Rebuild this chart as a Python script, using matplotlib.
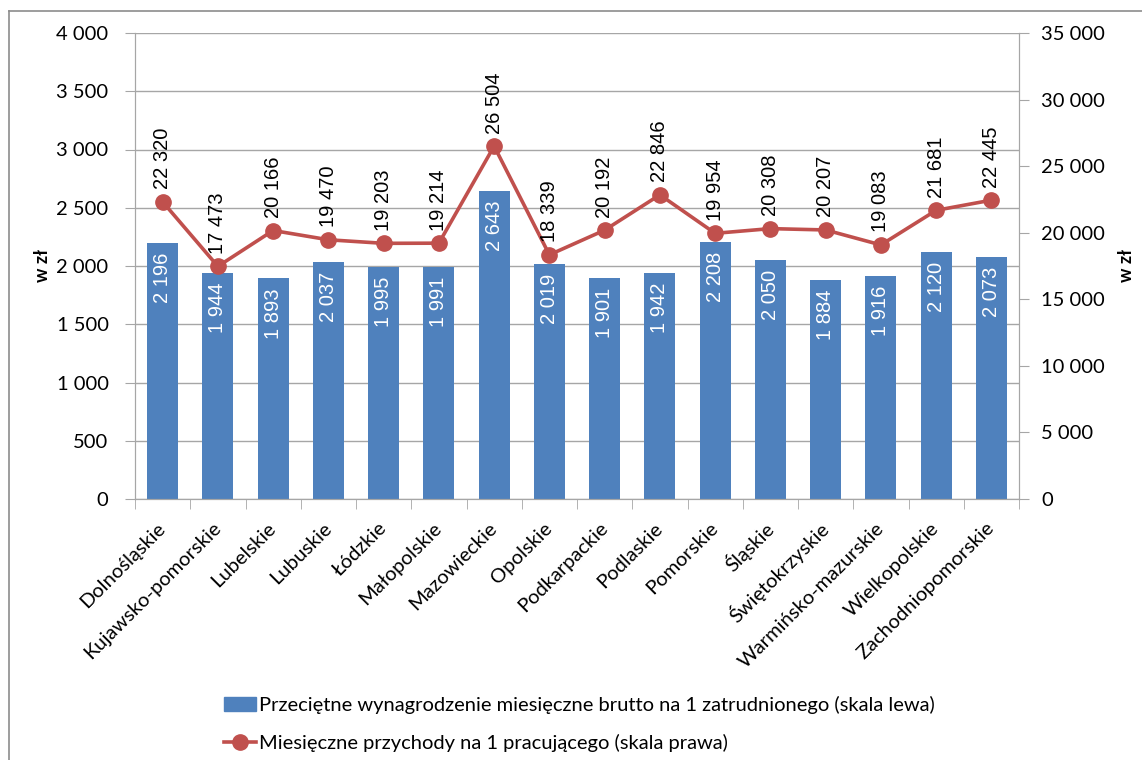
import matplotlib.pyplot as plt
from matplotlib.lines import Line2D
from matplotlib.patches import Patch
import numpy as np

regions = ["Dolnośląskie", "Kujawsko-pomorskie", "Lubelskie", "Lubuskie", "Łódzkie",
           "Małopolskie", "Mazowieckie", "Opolskie", "Podkarpackie", "Podlaskie",
           "Pomorskie", "Śląskie", "Świętokrzyskie", "Warmińsko-mazurskie",
           "Wielkopolskie", "Zachodniopomorskie"]
wages = [2196, 1944, 1893, 2037, 1995, 1991, 2643, 2019, 1901, 1942, 2208, 2050,
         1884, 1916, 2120, 2073]
revenue = [22320, 17473, 20166, 19470, 19203, 19214, 26504, 18339, 20192, 22846,
           19954, 20308, 20207, 19083, 21681, 22445]
left_ticks = [0, 500, 1000, 1500, 2000, 2500, 3000, 3500, 4000]
right_ticks = [0, 5000, 10000, 15000, 20000, 25000, 30000, 35000]

BAR = "#4F81BD"
LINE = "#C0504D"
GRID = "#A6A6A6"
TXT = "Lato"
LBL = "Liberation Sans"
FS = 14.5


def fmt(v):
    return f"{v:,}".replace(",", " ")


fig = plt.figure(figsize=(11.42, 7.6), dpi=100)
ax = fig.add_axes([135/1142, 1-499/760, (1019-135)/1142, (499-33)/760])
ax2 = ax.twinx()

x = np.arange(len(regions))
ax.bar(x, wages, width=0.56, color=BAR, zorder=2)
ax2.plot(x, revenue, color=LINE, lw=2.6, marker="o", ms=11, zorder=3)

ax.set_xlim(-0.5, len(regions) - 0.5)
ax.set_ylim(0, 4000)
ax2.set_ylim(0, 35000)
ax.set_yticks(left_ticks, [fmt(v) for v in left_ticks], fontfamily=TXT, fontsize=FS)
ax2.set_yticks(right_ticks, [fmt(v) for v in right_ticks], fontfamily=TXT, fontsize=FS)
ax.yaxis.grid(True, color=GRID, lw=1)
ax.set_axisbelow(True)

# category labels under centres, tick marks on boundaries
ax.set_xticks(x)
ax.set_xticklabels(regions, rotation=45, ha="right", va="center", rotation_mode="anchor",
                   fontfamily=TXT, fontsize=FS)
ax.tick_params(axis="x", length=0, pad=19)
ax.set_xticks(np.arange(-0.5, len(regions)), minor=True)
ax.tick_params(axis="x", which="minor", length=7, color=GRID)
ax.tick_params(axis="y", length=7, color=GRID, pad=12)
ax2.tick_params(axis="y", length=7, color=GRID, pad=9)

for a in (ax, ax2):
    for s in a.spines.values():
        s.set_color(GRID)
    a.spines["top"].set_visible(False)

ax.set_ylabel("w zł", fontsize=13, fontweight="bold", fontfamily=TXT)
ax.yaxis.set_label_coords(-0.095, 0.5)
ax2.set_ylabel("w zł", fontsize=13, fontweight="bold", fontfamily=TXT)
ax2.yaxis.set_label_coords(1.112, 0.5)

for xi, v in zip(x, wages):
    ax.annotate(fmt(v), (xi, v), xytext=(0, -7), textcoords="offset points",
                rotation=90, ha="center", va="top", color="white",
                fontfamily=LBL, fontsize=14.5)
for xi, v in zip(x, revenue):
    ax2.annotate(fmt(v), (xi, v), xytext=(0, 9), textcoords="offset points",
                 rotation=90, ha="center", va="bottom", color="black",
                 fontfamily=LBL, fontsize=14.5)

handles = [Patch(color=BAR),
           Line2D([], [], color=LINE, lw=2.6, marker="o", ms=11)]
labels = ["Przeciętne wynagrodzenie miesięczne brutto na 1 zatrudnionego (skala lewa)",
          "Miesięczne przychody na 1 pracującego (skala prawa)"]
fig.legend(handles, labels, loc="upper left", bbox_to_anchor=(224/1142, 1-696/760),
           frameon=False, prop={"family": TXT, "size": FS}, handlelength=1.6,
           handletextpad=0.15, labelspacing=1.0, borderpad=0, borderaxespad=0)

# outer chart border
fig.add_artist(Line2D([9/1142, 1], [1-11/760, 1-11/760], color="#8C8C8C", lw=1.2))
fig.add_artist(Line2D([9/1142, 9/1142], [0, 1-11/760], color="#8C8C8C", lw=1.2))

fig.savefig("out.png", dpi=100)
